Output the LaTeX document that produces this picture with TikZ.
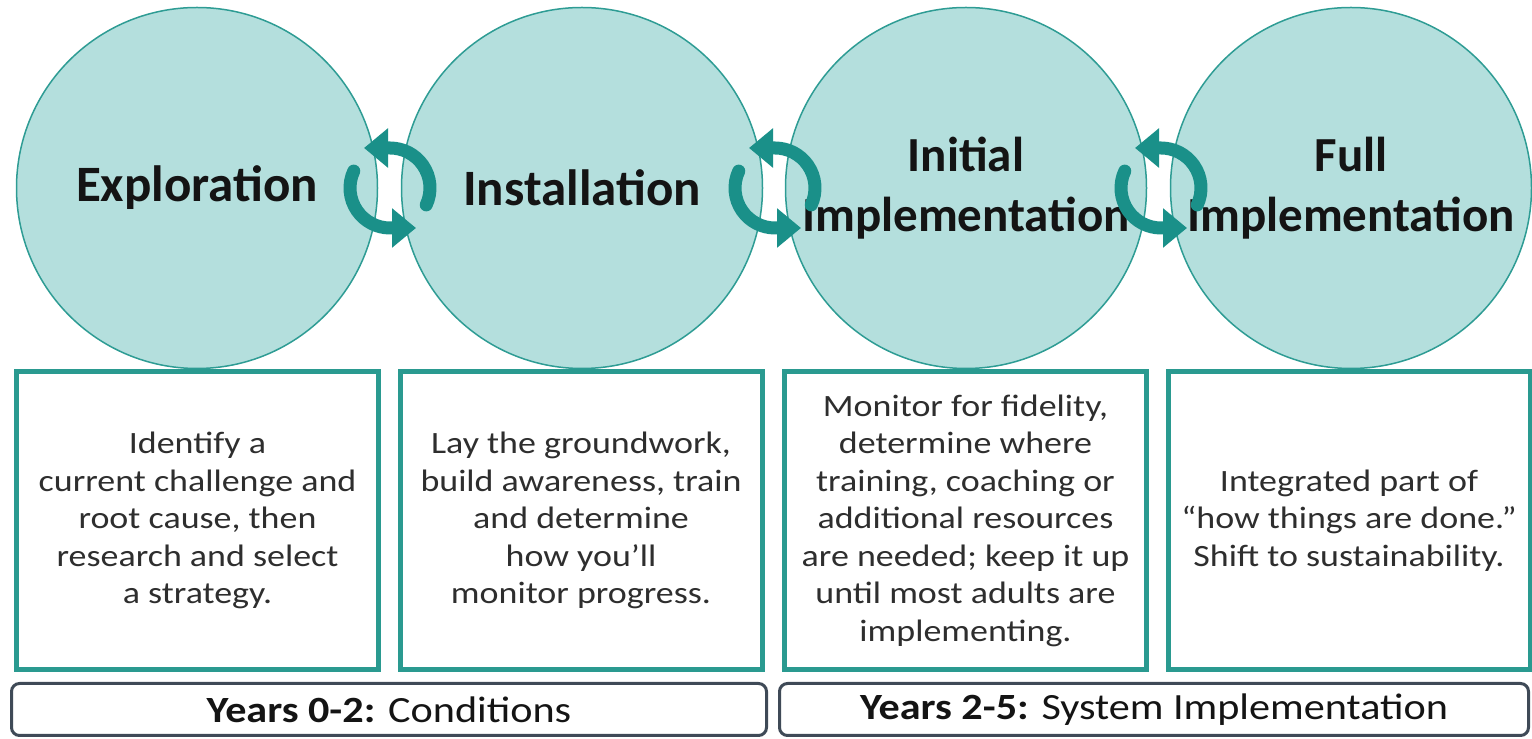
\documentclass[tikz,border=0pt]{standalone}
\usepackage{fontspec}
\setmainfont{Carlito}
\newfontfamily\bodyfont[FakeStretch=1.16]{Carlito}
\newfontfamily\barfont[FakeStretch=1.14]{Carlito}
\usetikzlibrary{arrows.meta,calc}
\definecolor{circfill}{HTML}{B4DFDD}
\definecolor{circline}{HTML}{2E9C94}
\definecolor{arrowc}{HTML}{1A9089}
\definecolor{boxline}{HTML}{2A9A90}
\definecolor{barline}{HTML}{3F4A57}
\definecolor{headtext}{HTML}{141414}
\definecolor{bodytext}{HTML}{2E2E2E}
\tikzset{
  phase/.style={circle, minimum size=361pt, inner sep=0pt, fill=circfill, draw=circline, line width=1.5pt,
    align=center, text=headtext, font=\fontsize{49}{60}\selectfont\bfseries},
  bigphase/.style={phase, font=\fontsize{51}{60}\selectfont\bfseries},
  descbox/.style={rectangle, minimum width=362pt, minimum height=298pt, inner sep=0pt, fill=white,
    draw=boxline, line width=5pt, align=center, text=bodytext, font=\bodyfont\fontsize{31}{37.5}\selectfont},
  yearbar/.style={rectangle, rounded corners=8pt, minimum height=52pt, inner sep=0pt, fill=white,
    draw=barline, line width=3pt, text=headtext, font=\barfont\fontsize{37}{44}\selectfont},
  cyc/.style={draw=arrowc, line width=13pt, line cap=round, -{Triangle[length=24pt,width=38pt]}}
}
\begin{document}
\begin{tikzpicture}[x=1pt,y=1pt]
\useasboundingbox (0,0) rectangle (1532,739);
% phase circles
\node[bigphase] (c1) at (197,551) {Exploration};
\node[bigphase] (c2) at (582,551) {Installation};
\node[phase] (c3) at (966,551) {Initial\\Implementation};
\node[phase] (c4) at (1351,551) {Full\\Implementation};
% description boxes
\node[descbox] (b1) at (197.5,218.5) {Identify a\\current challenge and\\root cause, then\\research and select\\a strategy.};
\node[descbox] (b2) at (581,218.5) {Lay the groundwork,\\build awareness, train\\and determine\\how you’ll\\monitor progress.};
\node[descbox] (b3) at (965.5,218.5) {Monitor for fidelity,\\determine where\\training, coaching or\\additional resources\\are needed; keep it up\\until most adults are\\implementing.};
\node[descbox] (b4) at (1349,218.5) {Integrated part of\\“how things are done.”\\Shift to sustainability.};
% year bars
\node[yearbar, minimum width=755pt] (y1) at (389,29.5) {\textbf{Years 0-2:} Conditions};
\node[yearbar, minimum width=749pt] (y2) at (1154,29.5) {\textbf{Years 2-5:} System Implementation};
% cycle arrows
\coordinate (g1) at (390,551);
\coordinate (g2) at (775,551);
\coordinate (g3) at (1161,551);
\foreach \g in {g1,g2,g3}{
  \draw[cyc] ($(\g)+(155:40)$) arc[start angle=155, end angle=270, radius=40] -- ++(26,0);
  \draw[cyc] ($(\g)+(-25:40)$) arc[start angle=-25, end angle=90, radius=40] -- ++(-26,0);
}
\end{tikzpicture}
\end{document}
